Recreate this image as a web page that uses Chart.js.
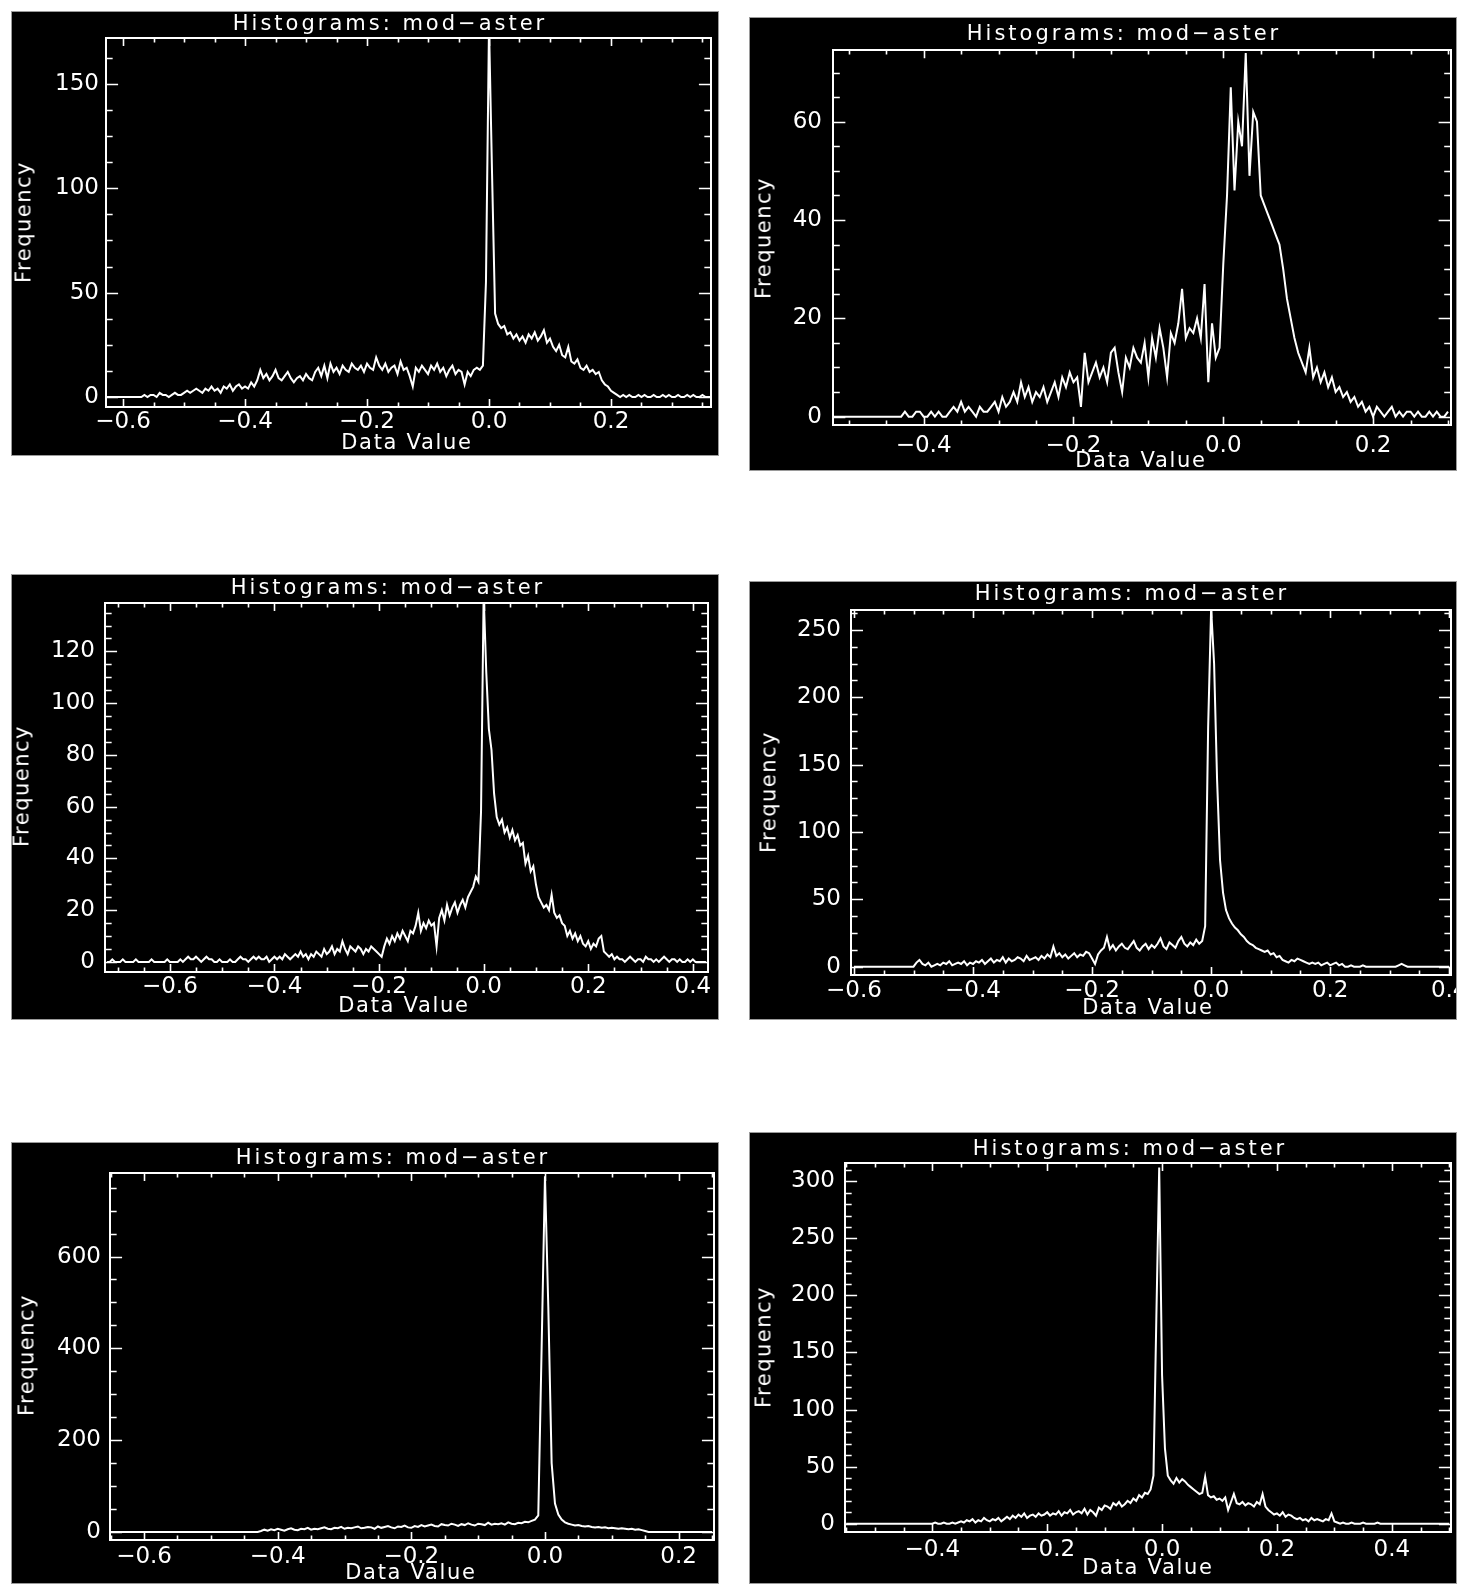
<!DOCTYPE html>
<html>
<head>
<meta charset="utf-8">
<title>Histograms: mod-aster</title>
<script src="https://cdn.jsdelivr.net/npm/chart.js@4.4.1/dist/chart.umd.min.js"></script>
<style>
  html, body { margin: 0; padding: 0; background: #fff; }
  body { width: 1466px; height: 1593px; position: relative; overflow: hidden; font-family: 'DejaVu Sans', sans-serif; }
  .panel { position: absolute; background: #000; overflow: hidden; box-shadow: 0 0 0 1px #9a9a9a; }
  .panel canvas { position: absolute; left: 0; top: 0; }
  .lbl { position: absolute; color: #fff; white-space: nowrap; line-height: 1; font-size: 21px; transform: translate(-50%, -50%); }
  .ttl { letter-spacing: 3px; }
  .xlab { letter-spacing: 1.7px; }
  .ylab { letter-spacing: 1.5px; transform: translate(-50%, -50%) rotate(-90deg); }
</style>
</head>
<body>
<script>
// ---- data (bin width 0.005) ----
const TITLE = 'Histograms: mod\u2212aster';
const X_LABEL = 'Data Value';
const Y_LABEL = 'Frequency';
const BIN_SIZE = 0.005;
const binStart = [-0.630, -0.520, -0.720, -0.600, -0.650, -0.550];

const p1Counts = [
  0,0,0,0,0,0,0,0,0,0,0,0,
  0,1,0,1,1,0,2,1,1,0,1,2,1,1,
  2,3,2,3,4,3,2,4,3,5,3,4,2,5,4,6,3,5,6,4,
  5,4,7,5,8,13,
  9,11,8,10,13,9,8,10,12,9,7,9,10,8,11,9,8,12,
  14,10,15,9,16,12,14,11,15,13,12,16,14,13,15,12,16,14,13,19,
  15,13,16,12,14,15,11,17,13,14,10,5,14,12,15,13,11,15,13,16,
  12,14,10,13,15,11,13,12,6,
  12,10,13,14,13,15,
  55,178,107,40,
  35,33,34,30,31,28,30,27,29,26,30,28,
  31,27,29,32,26,28,24,22,25,20,
  19,24,17,16,18,14,13,15,12,13,
  11,12,8,6,5,3,2,1,
  0,1,0,1,0,0,1,0,1,0,0,1,0,0,1,0,1,0,0,1,0,0,1,0,1,0,0,1,0,0,0
];
const p2Counts = [
  0,0,0,0,0,0,0,0,0,0,0,0,0,0,0,0,0,0,
  0,1,0,0,1,1,0,0,1,0,1,0,0,1,2,1,3,
  1,2,1,0,2,1,1,2,3,1,
  4,2,3,5,3,7,4,6,3,5,
  4,6,3,5,7,4,8,6,9,7,
  8,2,13,7,9,11,8,10,7,13,
  14,9,5,12,10,14,12,11,15,8,
  16,12,18,14,8,17,15,19,26,16,
  18,17,20,16,27,7,19,12,14,
  31,45,67,46,60,55,74,49,62,60,45,43,41,39,37,35,30,24,20,16,13,11,9,14,8,
  10,7,9,6,8,5,6,4,5,3,4,2,
  3,1,2,0,2,1,0,1,2,0,1,0,1,1,0,1,0,0,1,0,1,0,0,1
];
const p3Counts = [
  0,0,1,0,0,0,1,0,0,0,0,1,0,0,0,0,0,1,0,0,0,0,0,1,0,0,0,0,1,0,
  1,2,1,1,2,1,0,1,2,1,1,0,0,1,0,
  0,0,1,0,0,1,2,1,1,0,1,2,1,2,1,1,2,0,1,2,
  1,2,1,3,2,1,2,3,2,4,2,3,1,3,2,4,3,2,5,3,
  4,6,3,5,4,8,5,3,6,5,4,6,5,3,5,4,6,5,4,3,
  2,6,9,7,10,8,11,9,12,10,8,12,11,14,19,12,15,13,16,14,
  15,6,17,20,16,22,18,21,23,19,22,24,21,25,27,29,33,31,58,142,
  112,90,82,65,56,53,55,50,52,48,51,47,49,45,46,38,41,35,37,30,
  25,23,21,22,20,26,19,17,18,15,14,10,12,9,11,8,10,7,6,8,
  5,7,6,9,10,4,3,2,3,
  1,2,1,1,0,1,2,1,0,1,1,0,2,1,1,0,1,0,1,2,1,0,1,1,0,1,0,0,1,0,1,0,0,0,0,0
];
const p4Counts = [
  0,0,0,0,0,0,0,0,0,0,0,0,0,0,0,0,0,0,0,0,0,
  3,5,2,1,3,0,1,2,1,3,2,4,1,2,3,2,4,1,3,2,
  4,3,5,2,4,6,3,5,4,7,3,6,4,5,7,6,4,8,5,6,
  7,5,8,6,9,7,15,8,10,7,9,6,8,10,7,9,8,11,10,6,
  2,
  9,12,14,22,13,16,12,15,17,14,13,16,19,14,12,15,17,13,16,
  14,17,21,15,13,18,16,14,19,22,17,15,18,16,20,17,19,
  30,178,266,225,139,79,55,42,36,32,29,27,24,22,19,17,16,14,13,12,
  11,12,9,10,7,8,5,4,3,5,4,6,5,4,3,2,3,2,3,1,2,3,1,2,3,1,2,0,
  0,1,0,0,0,1,0,0,0,0,0,0,0,0,0,0,0,1,2,1,0,0,0,0,0,0,0,0,0,0,0,0,0,0,0
];
const p5Counts = [
  0,0,0,0,0,0,0,0,0,0,0,0,0,0,0,0,0,0,0,0,0,0,0,0,0,0,0,0,0,0,0,0,0,0,0,0,0,0,0,0,0,0,0,0,0,
  2,5,3,6,4,7,5,3,6,8,5,4,7,6,9,5,7,6,8,10,7,6,9,8,11,7,9,8,10,12,8,9,11,10,7,12,9,11,13,10,8,12,11,14,10,9,
  13,11,15,12,14,16,13,12,17,15,14,18,16,13,17,15,19,16,14,18,17,15,20,16,18,17,19,16,21,18,17,20,19,22,21,24,27,
  36,400,775,490,150,62,38,27,21,18,
  16,14,15,13,12,13,11,10,11,9,10,8,9,8,7,8,7,6,7,5,6,4,2,
  0,0,0,0,0,0,0,0,0,0,0,0,0,0,0,0,0,0,0,0
];
const p6Counts = [
  0,0,0,0,0,0,0,0,0,0,0,0,0,0,0,0,0,0,0,0,0,0,0,0,0,0,0,0,0,0,0,1,0,0,1,0,0,1,0,1,
  2,1,3,2,4,1,3,2,5,3,2,4,3,5,2,4,
  6,4,7,5,8,6,9,5,7,8,6,9,7,8,10,7,
  9,8,11,7,10,9,12,8,10,11,9,13,8,12,10,7,
  14,12,16,15,13,18,16,19,15,17,20,18,
  22,20,25,23,27,26,30,42,
  180,312,130,66,42,
  38,35,40,36,39,37,34,32,30,28,26,27,
  41,
  25,23,24,21,22,20,23,12,19,26,
  18,17,19,16,18,17,15,19,17,26,
  15,12,10,8,9,7,10,6,8,7,5,
  4,5,3,4,2,5,3,4,3,2,4,3,9,2,
  1,0,1,0,0,1,0,0,0,1,0,0,0,0,1,0,0,0,0,0,0,0,0,0,0,0,0,0,0,0,0,0,0,0,0,0,0,0,0,0
];
const allCounts = [p1Counts, p2Counts, p3Counts, p4Counts, p5Counts, p6Counts];

// axis ranges and labelled tick values
const xRange = [[-0.628, 0.364], [-0.521, 0.304], [-0.724, 0.429], [-0.605, 0.403], [-0.651, 0.253], [-0.552, 0.503]];
const yRange = [[-4.8, 172], [-1.7, 74.6], [-3.9, 138.7], [-6.2, 264.8], [-17.5, 782], [-7.3, 316]];
const xTicks = [
  [-0.6, -0.4, -0.2, 0, 0.2],
  [-0.4, -0.2, 0, 0.2],
  [-0.6, -0.4, -0.2, 0, 0.2, 0.4],
  [-0.6, -0.4, -0.2, 0, 0.2, 0.4],
  [-0.6, -0.4, -0.2, 0, 0.2],
  [-0.4, -0.2, 0, 0.2, 0.4]
];
const yTicks = [
  [0, 50, 100, 150],
  [0, 20, 40, 60],
  [0, 20, 40, 60, 80, 100, 120],
  [0, 50, 100, 150, 200, 250],
  [0, 200, 400, 600],
  [0, 50, 100, 150, 200, 250, 300]
];
const X_STEP = 0.2;
const X_MINOR = 4;
const yStep = [50, 20, 20, 50, 200, 50];
const yMinor = [4, 4, 4, 4, 4, 5];

// ---- page layout (page pixels): panel box, plot frame, label centres ----
const layout = [
  { bg: [12, 12, 718, 455],      frame: [106, 38, 711, 407],    title: [390, 23],    ylab: [24, 222],   xlab: [407, 442],   xPad: 1, yPad: 7 },
  { bg: [750, 18, 1456, 470],    frame: [833, 50, 1451, 425],   title: [1124, 33],   ylab: [764, 238],  xlab: [1141, 460],  xPad: 7, yPad: 11 },
  { bg: [12, 575, 718, 1019],    frame: [105, 603, 708, 972],   title: [388, 587],   ylab: [22, 786],   xlab: [404, 1005],  xPad: 1, yPad: 10 },
  { bg: [750, 582, 1456, 1019],  frame: [851, 610, 1451, 975],  title: [1132, 593],  ylab: [769, 792],  xlab: [1148, 1007], xPad: 2, yPad: 10 },
  { bg: [12, 1143, 718, 1583],   frame: [110, 1173, 714, 1540], title: [393, 1157],  ylab: [27, 1355],  xlab: [411, 1572],  xPad: 3, yPad: 9 },
  { bg: [750, 1133, 1456, 1583], frame: [845, 1163, 1451, 1532], title: [1130, 1148], ylab: [764, 1347], xlab: [1148, 1567], xPad: 4, yPad: 10 }
];

// IDL style box: frame on all four sides with inward major/minor ticks
const idlFrame = {
  id: 'idlFrame',
  afterDatasetsDraw(chart, args, opts) {
    const { ctx, chartArea: a } = chart;
    const xs = chart.scales.x, ys = chart.scales.y;
    const w = a.right - a.left, h = a.bottom - a.top;
    ctx.save();
    ctx.strokeStyle = '#fff';
    ctx.lineWidth = 2;
    ctx.strokeRect(a.left, a.top, w, h);
    ctx.lineWidth = 1.6;
    ctx.beginPath();
    const dx = opts.xStep / opts.xMinor;
    for (let k = Math.ceil(xs.min / dx - 1e-6); k * dx <= xs.max + 1e-9; k++) {
      const len = (k % opts.xMinor === 0 ? 0.022 : 0.012) * h;
      const px = Math.round(xs.getPixelForValue(k * dx)) + 0.5;
      ctx.moveTo(px, a.bottom); ctx.lineTo(px, a.bottom - len);
      ctx.moveTo(px, a.top); ctx.lineTo(px, a.top + len);
    }
    const dy = opts.yStep / opts.yMinor;
    for (let k = Math.ceil(ys.min / dy - 1e-6); k * dy <= ys.max + 1e-9; k++) {
      const len = (k % opts.yMinor === 0 ? 0.02 : 0.011) * w;
      const py = Math.round(ys.getPixelForValue(k * dy)) + 0.5;
      ctx.moveTo(a.left, py); ctx.lineTo(a.left + len, py);
      ctx.moveTo(a.right, py); ctx.lineTo(a.right - len, py);
    }
    ctx.stroke();
    ctx.restore();
  }
};

const fmtX = v => (v < -1e-9 ? '\u2212' : '') + Math.abs(v).toFixed(1);
const fmtY = v => String(Math.round(v));

layout.forEach((L, i) => {
  const [bl, bt, br, bb] = L.bg;
  const [fl, ft, fr, fb] = L.frame;
  const W = br - bl, H = bb - bt;

  const panel = document.createElement('div');
  panel.className = 'panel';
  panel.style.left = bl + 'px';
  panel.style.top = bt + 'px';
  panel.style.width = W + 'px';
  panel.style.height = H + 'px';
  document.body.appendChild(panel);

  const canvas = document.createElement('canvas');
  canvas.width = W;
  canvas.height = H;
  canvas.style.width = W + 'px';
  canvas.style.height = H + 'px';
  panel.appendChild(canvas);

  const addLabel = (cls, text, pos) => {
    const d = document.createElement('div');
    d.className = 'lbl ' + cls;
    d.textContent = text;
    d.style.left = (pos[0] - bl) + 'px';
    d.style.top = (pos[1] - bt) + 'px';
    panel.appendChild(d);
  };
  addLabel('ttl', TITLE, L.title);
  addLabel('ylab', Y_LABEL, L.ylab);
  addLabel('xlab', X_LABEL, L.xlab);

  const counts = allCounts[i];
  const points = counts.map((c, k) => ({ x: binStart[i] + k * BIN_SIZE, y: c }));
  const tickFont = { family: 'DejaVu Sans', size: 23 };

  new Chart(canvas, {
    type: 'line',
    data: {
      datasets: [{
        data: points,
        borderColor: '#ffffff',
        borderWidth: 2,
        pointRadius: 0,
        tension: 0,
        fill: false
      }]
    },
    options: {
      responsive: false,
      animation: false,
      events: [],
      layout: { padding: { left: 0, bottom: 0, top: ft - bt, right: br - fr } },
      plugins: {
        legend: { display: false },
        tooltip: { enabled: false },
        idlFrame: { xStep: X_STEP, xMinor: X_MINOR, yStep: yStep[i], yMinor: yMinor[i] }
      },
      scales: {
        x: {
          type: 'linear',
          min: xRange[i][0],
          max: xRange[i][1],
          grid: { display: false, drawTicks: false },
          border: { display: false },
          ticks: {
            autoSkip: false, maxRotation: 0, minRotation: 0,
            color: '#fff', font: tickFont, padding: L.xPad,
            callback: fmtX
          },
          afterBuildTicks(s) { s.ticks = xTicks[i].map(v => ({ value: v })); },
          afterFit(s) { s.height = bb - fb; s.paddingLeft = 0; s.paddingRight = 0; }
        },
        y: {
          type: 'linear',
          min: yRange[i][0],
          max: yRange[i][1],
          grid: { display: false, drawTicks: false },
          border: { display: false },
          ticks: {
            autoSkip: false,
            color: '#fff', font: tickFont, padding: L.yPad,
            callback: fmtY
          },
          afterBuildTicks(s) { s.ticks = yTicks[i].map(v => ({ value: v })); },
          afterFit(s) { s.width = fl - bl; s.paddingTop = 0; s.paddingBottom = 0; }
        }
      }
    },
    plugins: [idlFrame]
  });
});
</script>
</body>
</html>
